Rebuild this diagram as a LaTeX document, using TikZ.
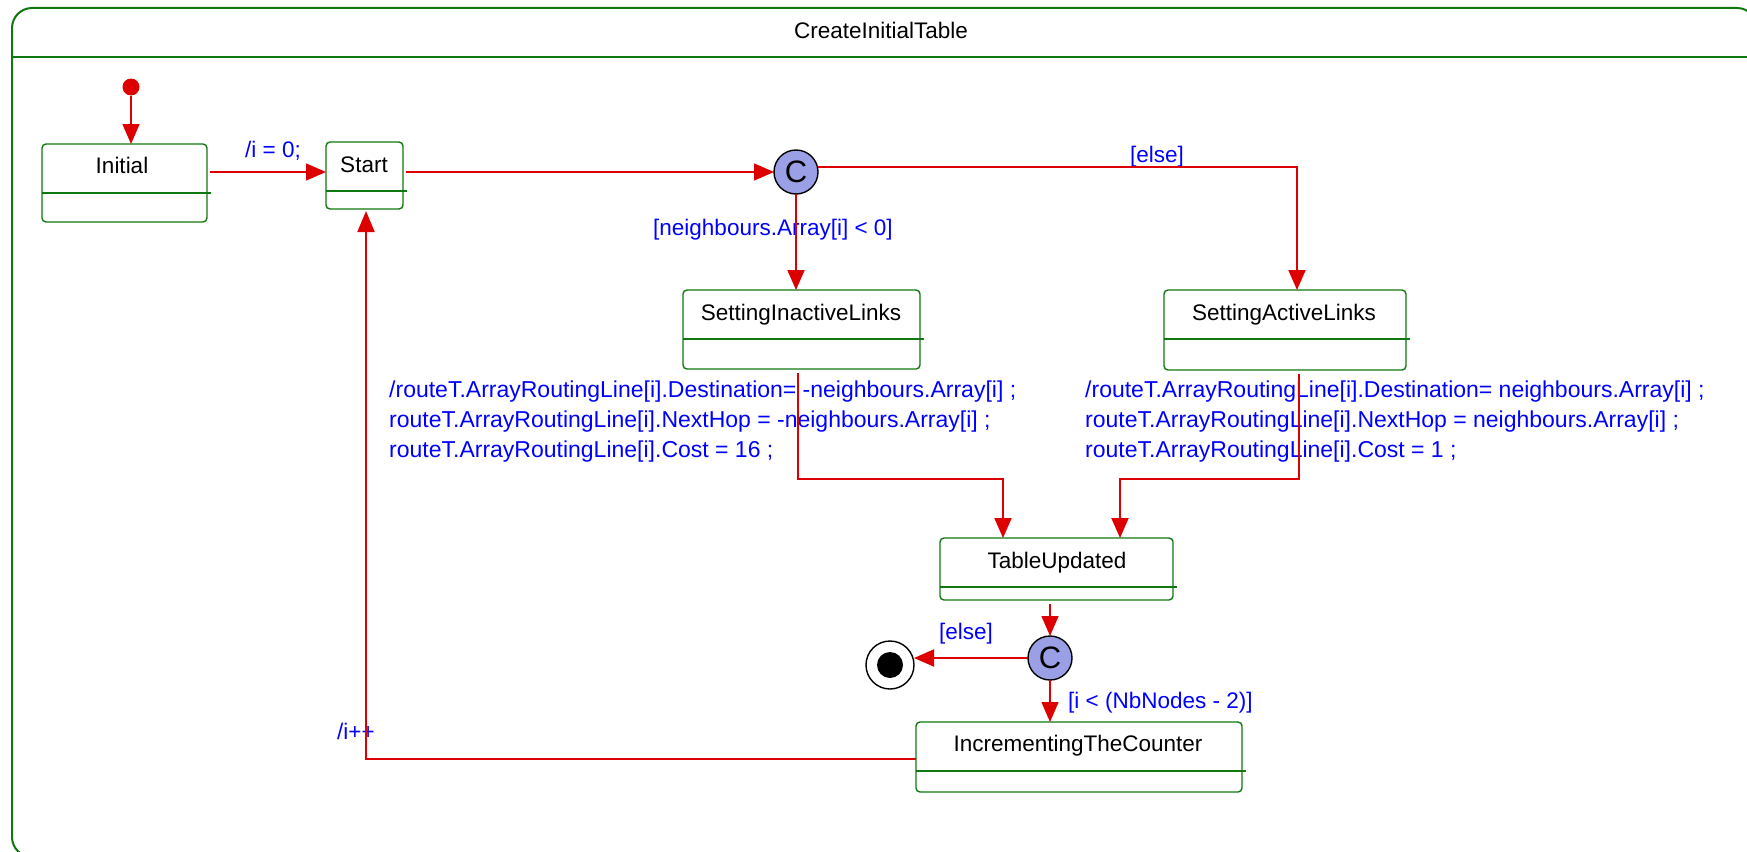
\documentclass[tikz,border=0pt]{standalone}
\usepackage{fontspec}
\setmainfont{Liberation Sans}
\usetikzlibrary{arrows.meta,calc}
\definecolor{stgreen}{RGB}{16,120,16}
\definecolor{trred}{RGB}{221,0,0}
\definecolor{lblblue}{RGB}{0,0,255}
\definecolor{choicefill}{RGB}{155,160,230}
\begin{document}
\begin{tikzpicture}[x=1pt,y=-1pt,
  frame/.style={draw=stgreen,line width=2pt,rounded corners=20pt,inner sep=0pt,outer sep=0pt,anchor=north west},
  statebox/.style={draw=stgreen,line width=1.4pt,rounded corners=4pt,inner sep=0pt,outer sep=0pt,fill=white},
  divider/.style={draw=stgreen,line width=1.4pt},
  statename/.style={font=\fontsize{22.5}{27}\selectfont,anchor=base,inner sep=0pt},
  guard/.style={text=lblblue,font=\fontsize{22.5}{30}\selectfont,anchor=base west,inner sep=0pt},
  action/.style={text=lblblue,font=\fontsize{23}{30}\selectfont,anchor=base west,inner sep=0pt,align=left},
  trans/.style={draw=trred,line width=2pt,-{Triangle[length=20pt,width=17pt]}},
  thintrans/.style={trans,line width=1.4pt},
  choice/.style={circle,draw=black,line width=1.4pt,fill=choicefill,minimum size=44pt,inner sep=0pt,outer sep=0pt,font=\fontsize{31}{31}\selectfont},
  initdot/.style={circle,fill=trred,minimum size=17pt,inner sep=0pt,outer sep=0pt},
  finalring/.style={circle,draw=black,line width=1.4pt,fill=white,minimum size=48pt,inner sep=0pt,outer sep=0pt},
  finaldot/.style={circle,fill=black,minimum size=26pt,inner sep=0pt,outer sep=0pt}]
\useasboundingbox (0,0) rectangle (1747,851);
\clip (0,0) rectangle (1747,851);

% enclosing composite state with its name compartment
\node[frame,minimum width=1745pt,minimum height=849pt] (frame) at (12,8) {};
\draw[divider,line width=2pt] ($(frame.north west)+(0,49)$) -- ($(frame.north east)+(0,49)$);
\node[statename] (title) at (881,38) {CreateInitialTable};

% simple states
\node[statebox,minimum width=165pt,minimum height=78pt] (init) at (124.5,183) {};
\node[statebox,minimum width=77pt,minimum height=67pt] (start) at (364.5,175.5) {};
\node[statebox,minimum width=237pt,minimum height=79pt] (inact) at (801.5,329.5) {};
\node[statebox,minimum width=242pt,minimum height=80pt] (act) at (1285,330) {};
\node[statebox,minimum width=233pt,minimum height=62pt] (upd) at (1056.5,569) {};
\node[statebox,minimum width=326pt,minimum height=70pt] (incr) at (1079,757) {};

\foreach \s in {init,start,inact,act,upd,incr}
  \draw[divider] ($(\s.north west)+(0,49)$) -- ($(\s.north east)+(4,49)$);

\node[statename] at (122,173) {Initial};
\node[statename] at (364,172) {Start};
\node[statename] at (801,320) {SettingInactiveLinks};
\node[statename] at (1284,320) {SettingActiveLinks};
\node[statename] at (1057,568) {TableUpdated};
\node[statename] at (1078,751) {IncrementingTheCounter};

% pseudo states
\node[initdot] (dot) at (131,87) {};
\node[choice] (c1) at (796,172) {C};
\node[choice] (c2) at (1050,658) {C};
\node[finalring] (final) at (890,665) {};
\node[finaldot] at (final) {};

% transition labels (multi-line actions are anchored on their last baseline)
\node[guard] at (245,157) {/i = 0;};
\node[guard] at (1130,162) {[else]};
\node[guard] at (653,235) {[neighbours.Array[i] < 0]};
\node[action] at (389,457) {/routeT.ArrayRoutingLine[i].Destination= -neighbours.Array[i] ;\\
routeT.ArrayRoutingLine[i].NextHop = -neighbours.Array[i] ;\\
routeT.ArrayRoutingLine[i].Cost = 16 ;};
\node[action] at (1085,457) {/routeT.ArrayRoutingLine[i].Destination= neighbours.Array[i] ;\\
routeT.ArrayRoutingLine[i].NextHop = neighbours.Array[i] ;\\
routeT.ArrayRoutingLine[i].Cost = 1 ;};
\node[guard] at (939,639) {[else]};
\node[guard] at (1068,708) {[i < (NbNodes - 2)]};
\node[guard] at (337,739) {/i++};

% transitions
\draw[thintrans] (dot) -- (dot |- init.north);
\draw[thintrans] ([yshift=11pt,xshift=3pt]init.east) -- ([yshift=11pt]init.east -| start.west);
\draw[thintrans] ([xshift=3pt]start.east |- c1) -- (c1.west);
\draw[trans] ([yshift=5pt]c1.east) -| ([xshift=12pt]act.north);
\draw[trans] (c1) -- (c1 |- inact.north);
\draw[trans] ([xshift=-3.5pt,yshift=-4pt]inact.south) -- ++(0,106) -| ([xshift=-53.5pt]upd.north);
\draw[trans] ([xshift=14pt,yshift=-4pt]act.south) -- ++(0,104.5) -| ([xshift=63.5pt]upd.north);
\draw[thintrans,shorten <=4pt] (upd.south -| c2) -- (c2);
\draw[trans] (c2) -- (c2 -| final.east);
\draw[thintrans] (c2) -- (c2 |- incr.north);
\draw[trans,-{Triangle[length=21pt,width=17pt]}] ([yshift=-2pt]incr.west) -| ([xshift=1.5pt,yshift=-2pt]start.south);
\end{tikzpicture}
\end{document}
